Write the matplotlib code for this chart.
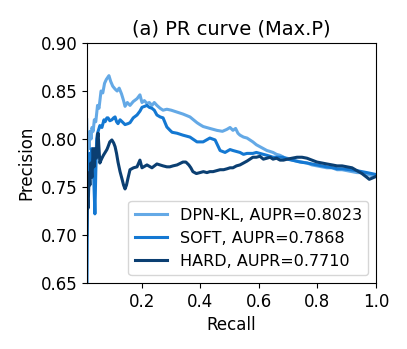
import matplotlib
matplotlib.use("Agg")
import matplotlib.pyplot as plt

#======================================================================#
## data
dpn_recall = [0.011, 0.013, 0.016, 0.019, 0.022, 0.026, 0.029, 0.033, 0.037, 0.042, 0.048, 0.053, 0.060, 0.066,
              0.072, 0.078, 0.087, 0.093, 0.100, 0.108, 0.115, 0.122, 0.130, 0.137, 0.142, 0.150, 0.159, 0.170,
              0.183, 0.193, 0.200, 0.208, 0.217, 0.225, 0.234, 0.242, 0.251, 0.262, 0.272, 0.285, 0.300, 0.320,
              0.340, 0.364, 0.376, 0.388, 0.398, 0.409, 0.432, 0.456, 0.475, 0.490, 0.501, 0.511, 0.520, 0.528,
              0.535, 0.547, 0.559, 0.569, 0.579, 0.591, 0.603, 0.615, 0.627, 0.638, 0.648, 0.660, 0.672, 0.684,
              0.696, 0.713, 0.730, 0.747, 0.764, 0.781, 0.798, 0.815, 0.832, 0.850, 0.867, 0.884, 0.901, 0.918,
              0.935, 0.952, 0.969, 0.985, 1.0]
dpn_precision = [0.820, 0.785, 0.800, 0.790, 0.808, 0.800, 0.812, 0.808, 0.820, 0.818, 0.835, 0.832, 0.850, 0.848,
                 0.858, 0.862, 0.866, 0.860, 0.855, 0.852, 0.850, 0.853, 0.847, 0.840, 0.834, 0.838, 0.835, 0.839,
                 0.842, 0.846, 0.838, 0.840, 0.837, 0.838, 0.835, 0.838, 0.835, 0.832, 0.830, 0.831, 0.830, 0.828,
                 0.826, 0.823, 0.820, 0.817, 0.815, 0.813, 0.811, 0.809, 0.808, 0.810, 0.812, 0.809, 0.811, 0.806,
                 0.804, 0.802, 0.801, 0.799, 0.797, 0.794, 0.792, 0.790, 0.788, 0.787, 0.786, 0.784, 0.783, 0.781,
                 0.780, 0.778, 0.777, 0.776, 0.775, 0.773, 0.772, 0.771, 0.770, 0.770, 0.768, 0.768, 0.767, 0.766,
                 0.765, 0.765, 0.763, 0.762, 0.761]

soft_recall = [0.011, 0.014, 0.017, 0.020, 0.024, 0.028, 0.031, 0.035, 0.039, 0.042, 0.045, 0.048, 0.052, 0.056,
               0.063, 0.070, 0.074, 0.080, 0.084, 0.090, 0.097, 0.103, 0.108, 0.113, 0.118, 0.125, 0.132, 0.142,
               0.152, 0.159, 0.170, 0.183, 0.193, 0.200, 0.209, 0.217, 0.225, 0.234, 0.242, 0.251, 0.262, 0.272,
               0.285, 0.296, 0.303, 0.320, 0.340, 0.364, 0.388, 0.409, 0.432, 0.450, 0.467, 0.484, 0.501, 0.511,
               0.523, 0.535, 0.547, 0.559, 0.569, 0.579, 0.591, 0.603, 0.615, 0.627, 0.638, 0.648, 0.660, 0.672,
               0.682, 0.696, 0.713, 0.740, 0.764, 0.781, 0.798, 0.815, 0.832, 0.853, 0.867, 0.884, 0.911, 0.935,
               0.952, 0.969, 0.985, 1.0]
soft_precision = [0.600, 0.760, 0.745, 0.785, 0.770, 0.790, 0.775, 0.760, 0.722, 0.765, 0.800, 0.806, 0.810, 0.814,
                  0.812, 0.820, 0.818, 0.822, 0.822, 0.819, 0.820, 0.822, 0.823, 0.818, 0.816, 0.820, 0.818, 0.815,
                  0.816, 0.817, 0.822, 0.825, 0.829, 0.833, 0.834, 0.835, 0.833, 0.832, 0.830, 0.825, 0.823, 0.822,
                  0.8125, 0.809, 0.807, 0.806, 0.804, 0.802, 0.797, 0.797, 0.801, 0.799, 0.788, 0.786, 0.789, 0.788,
                  0.787, 0.786, 0.784, 0.785, 0.785, 0.785, 0.786, 0.785, 0.784, 0.783, 0.782, 0.781, 0.781, 0.781,
                  0.781, 0.779, 0.778, 0.776, 0.775, 0.774, 0.773, 0.772, 0.771, 0.770, 0.769, 0.769, 0.768, 0.767,
                  0.766, 0.765, 0.764, 0.763]

hard_recall = [0.011, 0.013, 0.016, 0.019, 0.022, 0.025, 0.029, 0.033, 0.036, 0.040, 0.044, 0.048, 0.050, 0.053,
               0.056, 0.060, 0.063, 0.068, 0.074, 0.080, 0.084, 0.090, 0.097, 0.103, 0.108, 0.113, 0.118, 0.125,
               0.132, 0.137, 0.142, 0.147, 0.152, 0.159, 0.171, 0.183, 0.193, 0.200, 0.217, 0.234, 0.251, 0.272,
               0.285, 0.295, 0.306, 0.320, 0.340, 0.350, 0.360, 0.367, 0.374, 0.386, 0.398, 0.410, 0.422, 0.432,
               0.443, 0.455, 0.467, 0.479, 0.491, 0.501, 0.511, 0.523, 0.535, 0.547, 0.559, 0.569, 0.579, 0.591,
               0.603, 0.615, 0.627, 0.638, 0.648, 0.660, 0.672, 0.684, 0.696, 0.713, 0.730, 0.747, 0.764, 0.781,
               0.798, 0.815, 0.832, 0.850, 0.867, 0.884, 0.901, 0.918, 0.935, 0.952, 0.969, 0.977, 0.985, 1.0]
hard_precision = [0.700, 0.740, 0.728, 0.765, 0.752, 0.775, 0.760, 0.790, 0.771, 0.790, 0.780, 0.802, 0.806, 0.790,
                  0.775, 0.778, 0.780, 0.783, 0.786, 0.789, 0.792, 0.797, 0.799, 0.796, 0.792, 0.785, 0.776, 0.766,
                  0.758, 0.752, 0.748, 0.752, 0.759, 0.768, 0.770, 0.771, 0.778, 0.770, 0.773, 0.770, 0.774, 0.772,
                  0.771, 0.771, 0.772, 0.773, 0.776, 0.776, 0.773, 0.770, 0.766, 0.764, 0.765, 0.766, 0.765, 0.766,
                  0.766, 0.767, 0.768, 0.768, 0.769, 0.770, 0.770, 0.772, 0.773, 0.775, 0.777, 0.779, 0.781, 0.781,
                  0.782, 0.779, 0.780, 0.781, 0.779, 0.780, 0.778, 0.778, 0.779, 0.780, 0.781, 0.781, 0.780, 0.778,
                  0.776, 0.775, 0.774, 0.773, 0.772, 0.772, 0.771, 0.770, 0.767, 0.764, 0.760, 0.758, 0.759, 0.761]

labels = ['DPN-KL, AUPR=0.8023', 'SOFT, AUPR=0.7868', 'HARD, AUPR=0.7710']
colors = ['#64a9e6', '#1478d2', '#0b3f72']
#======================================================================#
def main():
    fig = plt.figure(figsize=(4.07, 3.49), dpi=100)
    ax = fig.add_axes([87/407, 1-283/349, (376-87)/407, (283-43)/349])

    ax.plot(dpn_recall, dpn_precision, color=colors[0], linewidth=2.2, label=labels[0])
    ax.plot(soft_recall, soft_precision, color=colors[1], linewidth=2.2, label=labels[1])
    ax.plot(hard_recall, hard_precision, color=colors[2], linewidth=2.2, label=labels[2])

    ax.set_xlim(0.012, 1.0)
    ax.set_ylim(0.65, 0.90)
    ax.set_xticks([0.2, 0.4, 0.6, 0.8, 1.0])
    ax.set_yticks([0.65, 0.70, 0.75, 0.80, 0.85, 0.90])
    ax.tick_params(labelsize=12)
    ax.set_title("(a) PR curve (Max.P)", fontsize=14)
    ax.set_xlabel("Recall", fontsize=12)
    ax.set_ylabel("Precision", fontsize=12)
    ax.legend(loc='lower right', fontsize=11.5)

    fig.savefig("out.png", dpi=100)

if __name__ == '__main__':
    main()
